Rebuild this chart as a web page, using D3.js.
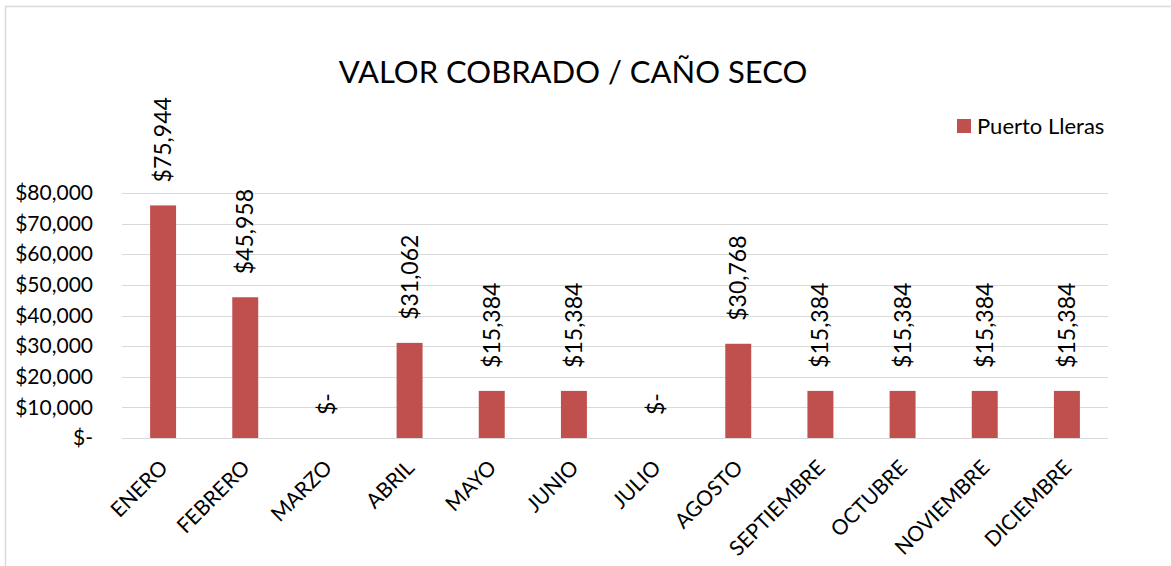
<!DOCTYPE html>
<html>
<head>
<meta charset="utf-8">
<script src="https://cdn.jsdelivr.net/npm/d3@7"></script>
<style>
  html, body { margin: 0; padding: 0; background: #fff; }
  svg { display: block; font-family: Lato, "Noto Sans", sans-serif; }
</style>
</head>
<body>
<svg id="chart" width="1171" height="566"></svg>
<script>
// Monthly amounts collected
const months = ["ENERO", "FEBRERO", "MARZO", "ABRIL", "MAYO", "JUNIO", "JULIO",
                "AGOSTO", "SEPTIEMBRE", "OCTUBRE", "NOVIEMBRE", "DICIEMBRE"];
const seriesName = "Puerto Lleras";
const values = [75944, 45958, 0, 31062, 15384, 15384, 0, 30768, 15384, 15384, 15384, 15384];
const yTicks = [0, 10000, 20000, 30000, 40000, 50000, 60000, 70000, 80000];
const title = "VALOR COBRADO / CAÑO SECO";

const barColor = "#C0504D";
const gridColor = "#d9d9d9";
const textColor = "#000";

const svg = d3.select("#chart");

// outer chart frame
svg.append("rect")
  .attr("x", 5.5).attr("y", 6.5)
  .attr("width", 1300).attr("height", 700)
  .attr("fill", "none").attr("stroke", gridColor).attr("stroke-width", 1.5);

const plot = { left: 122, right: 1108, top: 193, bottom: 438 };

const x = d3.scaleBand()
  .domain(months)
  .range([plot.left, plot.right])
  .paddingInner(0.684)
  .paddingOuter(0.342);

const y = d3.scaleLinear()
  .domain([0, 80000])
  .range([plot.bottom, plot.top]);

const money = d => d === 0 ? "$-" : "$" + d3.format(",")(d);

// horizontal gridlines
svg.append("g")
  .selectAll("line")
  .data(yTicks)
  .join("line")
  .attr("x1", plot.left).attr("x2", plot.right)
  .attr("y1", d => Math.round(y(d)) + 0.5).attr("y2", d => Math.round(y(d)) + 0.5)
  .attr("stroke", gridColor).attr("stroke-width", 1);

// y axis labels
const yAxis = d3.axisLeft(y).tickValues(yTicks).tickFormat(money).tickSize(0).tickPadding(0);
const yg = svg.append("g")
  .attr("transform", `translate(${plot.left - 29},0)`)
  .call(yAxis);
yg.select(".domain").remove();
yg.selectAll("text")
  .attr("font-size", 21).attr("fill", textColor)
  .style("font-family", "Lato, 'Noto Sans', sans-serif");

// bars
svg.append("g")
  .selectAll("rect")
  .data(values)
  .join("rect")
  .attr("x", (d, i) => x(months[i]))
  .attr("width", x.bandwidth())
  .attr("y", d => y(d))
  .attr("height", d => y(0) - y(d))
  .attr("fill", barColor);

// value labels above bars, rotated
svg.append("g")
  .selectAll("text")
  .data(values)
  .join("text")
  .attr("transform", (d, i) =>
    `translate(${x(months[i]) + x.bandwidth() / 2},${y(d) - 23}) rotate(-90)`)
  .attr("dy", "0.35em")
  .attr("text-anchor", "start")
  .attr("font-size", 23)
  .attr("fill", textColor)
  .text(money);

// x axis category labels, slanted
const xAxis = d3.axisBottom(x).tickSize(0).tickPadding(0);
const xg = svg.append("g")
  .attr("transform", `translate(0,${plot.bottom})`)
  .call(xAxis);
xg.select(".domain").remove();
xg.selectAll("text")
  .attr("font-size", 21).attr("fill", textColor)
  .style("font-family", "Lato, 'Noto Sans', sans-serif")
  .attr("text-anchor", "end")
  .attr("dy", null)
  .attr("y", 0)
  .attr("transform", "translate(6,31) rotate(-45)");

// title
svg.append("text")
  .attr("x", 573).attr("y", 83)
  .attr("text-anchor", "middle")
  .attr("font-size", 31)
  .attr("fill", textColor)
  .text(title);

// legend
const lg = svg.append("g").attr("transform", "translate(957,119)");
lg.append("rect").attr("width", 14).attr("height", 14).attr("fill", barColor);
lg.append("text")
  .attr("x", 20).attr("y", 7).attr("dy", "0.35em")
  .attr("font-size", 22).attr("fill", textColor)
  .text(seriesName);
</script>
</body>
</html>
